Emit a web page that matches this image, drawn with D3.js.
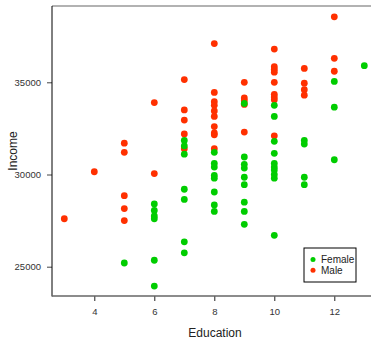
<!DOCTYPE html>
<html lang="en">
<head>
<meta charset="UTF-8" />
<title>Income by Education</title>
<script src="https://d3js.org/d3.v7.min.js"></script>
<style>
  body { margin: 0; background: #fff; }
  svg { display: block; font-family: "Liberation Sans", Arial, sans-serif; }
</style>
</head>
<body>
<div id="chart"></div>
<script>
// values
const femaleEducation = [5, 6, 6, 6, 6, 6, 6, 7, 7, 7, 7, 7, 7, 7, 8, 8, 8, 8, 8, 8, 8, 8,
  9, 9, 9, 9, 9, 9, 9, 9, 9, 10, 10, 10, 10, 10, 10, 10, 10, 10, 10, 11, 11, 11, 11, 12, 12, 12, 13];
const femaleIncome = [25200, 28400, 28050, 27750, 27600, 25350, 23950,
  31850, 31550, 31100, 29200, 28650, 26350, 25750,
  31200, 30600, 30400, 29950, 29800, 29050, 28350, 28000,
  33850, 30950, 30550, 30350, 29850, 29450, 28500, 28000, 27300,
  33750, 33150, 31800, 31150, 30600, 30400, 30250, 30000, 29800, 26700,
  31850, 31650, 29850, 29450, 35050, 33650, 30800, 35900];

const maleEducation = [3, 4, 5, 5, 5, 5, 5, 6, 6, 7, 7, 7, 7, 7,
  8, 8, 8, 8, 8, 8, 8, 8, 8, 8, 9, 9, 9, 9, 9,
  10, 10, 10, 10, 10, 10, 10, 10, 10, 11, 11, 11, 11, 12, 12, 12];
const maleIncome = [27600, 30150, 31700, 31200, 28850, 28150, 27500, 33900, 30050,
  35150, 33500, 32950, 32200, 31400,
  37100, 34450, 33950, 33750, 33450, 33150, 32600, 32250, 32150, 31400,
  35000, 34150, 34000, 33800, 32300,
  36800, 35850, 35700, 35550, 35000, 34350, 34200, 34050, 32100,
  35750, 34950, 34600, 34300, 38550, 36300, 35600];

const xTicks = [4, 6, 8, 10, 12];
const yTicks = [25000, 30000, 35000];
const groups = ["Female", "Male"];
const colors = { Female: "#00cd00", Male: "#ff3000" };

const width = 371, height = 340;
const plot = { left: 52, right: 380, top: 6, bottom: 296 };

const x = d3.scaleLinear().domain([4, 12]).range([94.3, 334.3]);
const y = d3.scaleLinear().domain([25000, 35000]).range([266.7, 82.3]);

const svg = d3.select("#chart").append("svg")
  .attr("width", width).attr("height", height);

// frame
svg.append("line")
  .attr("x1", plot.left).attr("x2", plot.right)
  .attr("y1", plot.top).attr("y2", plot.top)
  .attr("stroke", "#999").attr("stroke-width", 1.5);

const males = maleEducation.map((e, i) => ({ g: "Male", e, v: maleIncome[i] }));
const females = femaleEducation.map((e, i) => ({ g: "Female", e, v: femaleIncome[i] }));

svg.append("g").selectAll("circle")
  .data(males.concat(females))
  .join("circle")
  .attr("cx", d => x(d.e))
  .attr("cy", d => y(d.v))
  .attr("r", 3.4)
  .attr("fill", d => colors[d.g]);

// y axis
const yAxis = svg.append("g")
  .attr("transform", `translate(${plot.left},0)`)
  .call(d3.axisLeft(y).tickValues(yTicks).tickSize(5).tickPadding(6).tickFormat(d3.format("d")));
yAxis.select(".domain").remove();
yAxis.append("line")
  .attr("y1", plot.top).attr("y2", plot.bottom + 0.5)
  .attr("stroke", "#000");
yAxis.selectAll(".tick line").attr("stroke", "#444");
yAxis.selectAll(".tick text").attr("font-size", 9.5).attr("fill", "#333")
  .attr("font-family", "Liberation Sans, Arial, sans-serif");

// x axis
const xAxis = svg.append("g")
  .attr("transform", `translate(0,${plot.bottom})`)
  .call(d3.axisBottom(x).tickValues(xTicks).tickSize(5).tickPadding(7));
xAxis.select(".domain").remove();
xAxis.append("line")
  .attr("x1", plot.left).attr("x2", plot.right)
  .attr("stroke", "#666").attr("stroke-width", 1.6);
xAxis.selectAll(".tick line").attr("stroke", "#222");
xAxis.selectAll(".tick text").attr("font-size", 9.5).attr("fill", "#333")
  .attr("font-family", "Liberation Sans, Arial, sans-serif");

// titles
svg.append("text")
  .attr("x", 215).attr("y", 337)
  .attr("text-anchor", "middle")
  .attr("font-size", 12).attr("fill", "#222")
  .text("Education");

svg.append("text")
  .attr("transform", "translate(17,151) rotate(-90)")
  .attr("text-anchor", "middle")
  .attr("font-size", 12).attr("fill", "#222")
  .text("Income");

// legend
const legend = svg.append("g").attr("transform", "translate(304,248)");
legend.append("rect")
  .attr("width", 52).attr("height", 34)
  .attr("fill", "#fff").attr("stroke", "#000");
const item = legend.selectAll(".item")
  .data(groups)
  .join("g")
  .attr("class", "item")
  .attr("transform", (d, i) => `translate(0,${11.5 + i * 10.7})`);
item.append("circle")
  .attr("cx", 9).attr("r", 2.5)
  .attr("fill", d => colors[d]);
item.append("text")
  .attr("x", 17).attr("dy", "0.35em")
  .attr("font-size", 10).attr("fill", "#222")
  .text(d => d);
</script>
</body>
</html>
